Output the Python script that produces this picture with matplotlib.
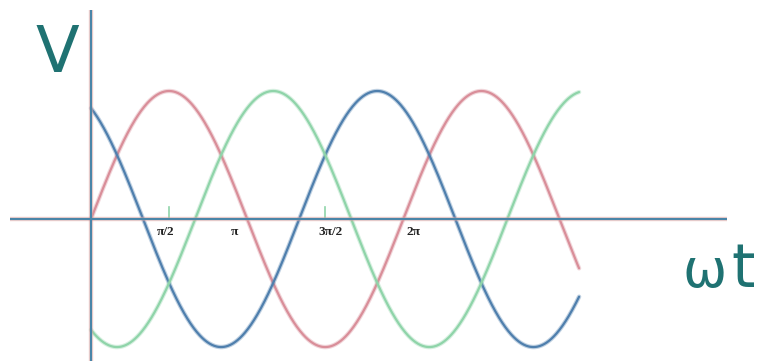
import numpy as np
import matplotlib
matplotlib.use("Agg")
import matplotlib.pyplot as plt

# --- data ---
theta_end = 9.82                       # radians where the curves stop
phases = [0.0, 2*np.pi/3, -2*np.pi/3]  # phase shifts of the three waves
colors = ["#d98e99", "#4f7fad", "#8fd4a9"]
tick_vals = [np.pi/2, np.pi, 3*np.pi/2, 2*np.pi]
tick_labels = ["π/2", "π", "3π/2", "2π"]
tick_offsets_px = [-3, -13, 5, 10]
mark_vals = [np.pi/2, 3*np.pi/2]

fig = plt.figure(figsize=(7.6, 3.61), dpi=100)
ax = fig.add_axes([0, 0, 1, 1])
ax.set_xlim(-1.831, 13.46)
ax.set_ylim(-1.109, 1.711)
ax.axis("off")

# axes lines (with a faint pink halo like the reference)
axis_col = "#4a85a8"
for lw, col, a in [(3.2, "#f0a8a0", 0.5), (1.6, axis_col, 1.0)]:
    ax.plot([-1.63, 12.80], [0, 0], color=col, lw=lw, alpha=a, solid_capstyle="butt", zorder=3)
    ax.plot([0, 0], [-1.2, 1.633], color=col, lw=lw, alpha=a, solid_capstyle="butt", zorder=3)

t = np.linspace(0, theta_end, 800)
for ph, c in zip(phases, colors):
    y = np.sin(t + ph)
    ax.plot(t, y, color=c, lw=3.2, alpha=0.35, solid_capstyle="round", zorder=2)
    ax.plot(t, y, color=c, lw=1.6, solid_capstyle="round", zorder=2)

for m in mark_vals:
    ax.plot([m, m], [0, 0.094], color="#8fd4a9", lw=1.2, zorder=2)

for v, lab, off in zip(tick_vals, tick_labels, tick_offsets_px):
    ax.annotate(lab, (v, -0.055), xytext=(off, 0), textcoords="offset pixels",
                ha="center", va="top", fontsize=9.5, fontweight="bold",
                family="Liberation Serif", color="#222222", zorder=4)

ax.text(-0.684, 1.148, "V", ha="center", va="baseline", fontsize=46,
        color="#1f7272", family="DejaVu Sans")
ax.text(12.34, -0.531, "ω", ha="center", va="baseline", fontsize=38,
        color="#1f7272", family="DejaVu Sans")
ax.text(13.12, -0.531, "t", ha="center", va="baseline", fontsize=43,
        color="#1f7272", family="DejaVu Sans")

fig.savefig("out.png", dpi=100, facecolor="white")
